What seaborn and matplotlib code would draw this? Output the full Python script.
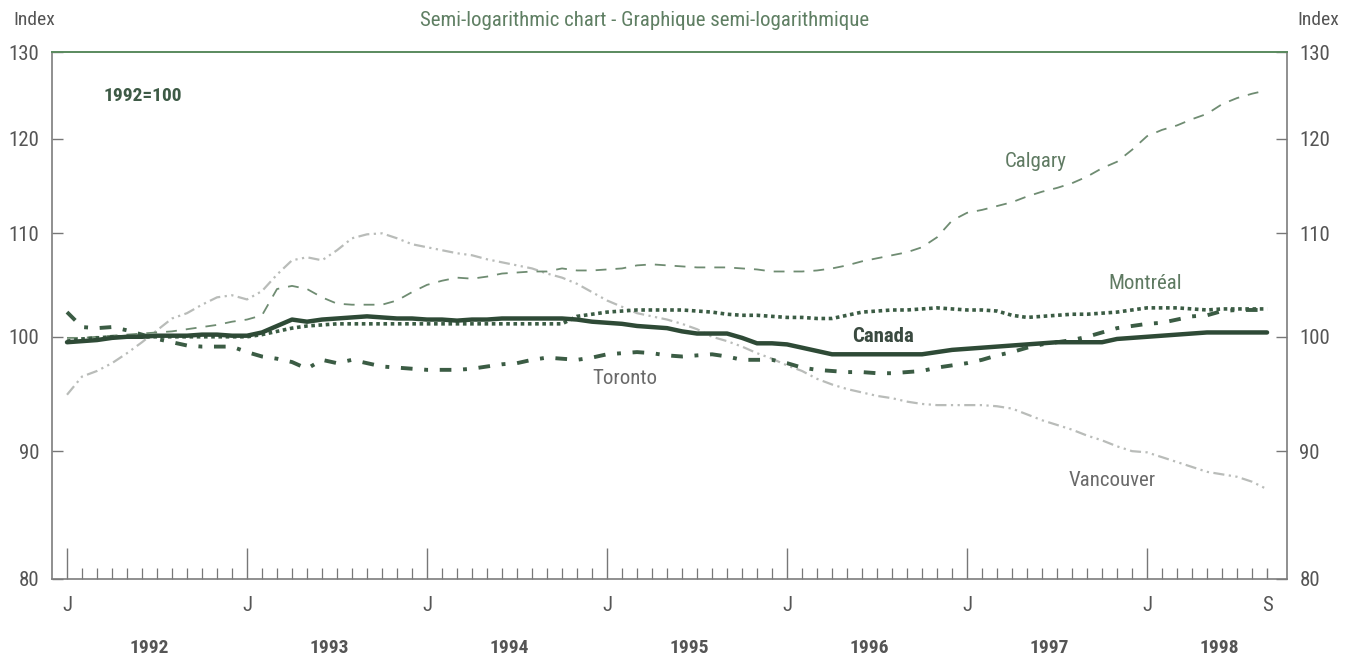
import numpy as np
import pandas as pd
import matplotlib
matplotlib.use("Agg")
import matplotlib.pyplot as plt
from matplotlib import font_manager
from matplotlib.ticker import FixedLocator, FixedFormatter, NullFormatter
import seaborn as sns

# ---------------- data (monthly, Jan 1992 .. Sep 1998) ----------------
months = np.arange(81)

canada = [99.5, 99.6, 99.7, 99.9, 100.0, 100.0, 100.1, 100.1, 100.1, 100.2, 100.2, 100.1,
          100.1, 100.4, 101.0, 101.6, 101.4, 101.6, 101.7, 101.8, 101.9, 101.8, 101.7, 101.7,
          101.6, 101.6, 101.5, 101.6, 101.6, 101.7, 101.7, 101.7, 101.7, 101.7, 101.6, 101.4,
          101.3, 101.2, 101.0, 100.9, 100.8, 100.5, 100.3, 100.3, 100.3, 99.9, 99.4, 99.4,
          99.3, 99.0, 98.7, 98.4, 98.4, 98.4, 98.4, 98.4, 98.4, 98.4, 98.6, 98.8,
          98.9, 99.0, 99.1, 99.2, 99.3, 99.4, 99.5, 99.5, 99.5, 99.5, 99.8, 99.9,
          100.0, 100.1, 100.2, 100.3, 100.4, 100.4, 100.4, 100.4, 100.4]

montreal = [99.6, 99.8, 99.9, 100.0, 100.0, 100.0, 100.0, 100.0, 100.0, 100.0, 100.0, 100.0,
            100.0, 100.2, 100.5, 100.8, 101.0, 101.1, 101.2, 101.2, 101.2, 101.2, 101.2, 101.2,
            101.2, 101.2, 101.2, 101.2, 101.2, 101.2, 101.2, 101.2, 101.2, 101.2, 101.9, 102.1,
            102.3, 102.4, 102.5, 102.5, 102.5, 102.5, 102.4, 102.3, 102.1, 102.0, 102.0, 101.9,
            101.8, 101.8, 101.7, 101.7, 102.0, 102.3, 102.4, 102.5, 102.5, 102.6, 102.7, 102.6,
            102.5, 102.5, 102.4, 102.0, 101.8, 101.9, 102.0, 102.1, 102.1, 102.2, 102.3, 102.5,
            102.7, 102.7, 102.7, 102.6, 102.5, 102.6, 102.6, 102.6, 102.6]

toronto = [102.3, 100.9, 100.8, 100.9, 100.6, 100.2, 99.8, 99.5, 99.2, 99.1, 99.1, 99.1,
           98.6, 98.2, 98.0, 97.7, 97.1, 97.9, 97.6, 97.9, 97.6, 97.3, 97.2, 97.1,
           97.0, 97.0, 97.0, 97.1, 97.3, 97.5, 97.6, 97.9, 98.1, 98.0, 97.9, 98.1,
           98.4, 98.5, 98.6, 98.5, 98.3, 98.2, 98.3, 98.4, 98.2, 97.9, 97.9, 97.9,
           97.6, 97.2, 97.0, 96.9, 96.8, 96.8, 96.7, 96.7, 96.8, 96.9, 97.2, 97.4,
           97.6, 97.9, 98.3, 98.6, 99.0, 99.3, 99.5, 99.7, 100.0, 100.4, 100.8, 101.0,
           101.2, 101.3, 101.6, 101.9, 102.0, 102.4, 102.5, 102.5, 102.5]

calgary = [99.9, 99.9, 100.0, 100.1, 100.2, 100.3, 100.4, 100.5, 100.7, 100.9, 101.1, 101.4,
           101.6, 102.0, 104.5, 104.8, 104.5, 103.7, 103.1, 103.0, 103.0, 103.0, 103.4, 104.2,
           104.9, 105.3, 105.6, 105.5, 105.7, 106.0, 106.1, 106.2, 106.2, 106.5, 106.3, 106.3,
           106.4, 106.5, 106.8, 106.9, 106.8, 106.7, 106.6, 106.6, 106.6, 106.5, 106.4, 106.2,
           106.2, 106.2, 106.3, 106.5, 106.8, 107.2, 107.5, 107.8, 108.1, 108.6, 109.6, 111.3,
           112.1, 112.4, 112.8, 113.2, 113.8, 114.3, 114.7, 115.2, 115.9, 116.8, 117.5, 118.8,
           120.3, 121.0, 121.5, 122.2, 122.8, 123.9, 124.6, 125.1, 125.5]

vancouver = [94.8, 96.4, 96.9, 97.6, 98.5, 99.5, 100.6, 101.7, 102.2, 103.0, 103.7, 103.9,
             103.5, 104.3, 105.9, 107.3, 107.6, 107.3, 108.3, 109.5, 109.9, 110.0, 109.5, 108.9,
             108.6, 108.3, 108.0, 107.8, 107.4, 107.1, 106.8, 106.5, 106.0, 105.6, 105.0, 104.2,
             103.4, 102.8, 102.2, 101.9, 101.6, 101.2, 100.7, 100.0, 99.6, 99.1, 98.5, 98.0,
             97.4, 96.9, 96.2, 95.7, 95.3, 95.0, 94.7, 94.5, 94.2, 94.0, 93.9, 93.9,
             93.9, 93.9, 93.8, 93.6, 93.1, 92.6, 92.2, 91.8, 91.3, 90.9, 90.4, 90.0,
             89.9, 89.5, 89.1, 88.7, 88.3, 88.1, 87.9, 87.5, 86.9]

y_ticks = [80, 90, 100, 110, 120, 130]
x_major = [0, 12, 24, 36, 48, 60, 72, 80]
x_major_labels = ["J", "J", "J", "J", "J", "J", "J", "S"]
years = ["1992", "1993", "1994", "1995", "1996", "1997", "1998"]
year_pos = [5.5, 17.5, 29.5, 41.5, 53.5, 65.5, 76.8]

# ---------------- fonts ----------------
sns.set_theme(style="white")
avail = {f.name for f in font_manager.fontManager.ttflist}
family = "DejaVu Sans"
for cand in ["Liberation Sans Narrow", "Roboto Condensed", "DejaVu Sans Condensed", "Liberation Sans"]:
    if cand in avail:
        family = cand
        break
plt.rcParams["font.family"] = [family, "DejaVu Sans"]

TXT_GREEN = "#5f7f63"
TXT_GRAY = "#555555"
DARK = "#2e4a36"

fig = plt.figure(figsize=(13.57, 6.64), dpi=100)
ax = fig.add_axes([52 / 1357, 1 - 579 / 664, (1287 - 52) / 1357, (579 - 52) / 664])

df = pd.DataFrame({"m": months, "Canada": canada, "Montreal": montreal, "Toronto": toronto,
                   "Calgary": calgary, "Vancouver": vancouver})

sns.lineplot(data=df, x="m", y="Vancouver", ax=ax, color="#b9bcb9", linewidth=1.6,
             linestyle=(0, (5, 2, 1, 2, 1, 2)))
sns.lineplot(data=df, x="m", y="Calgary", ax=ax, color="#6f8c72", linewidth=1.3,
             linestyle=(0, (6, 5)))
sns.lineplot(data=df, x="m", y="Toronto", ax=ax, color="#3b5c44", linewidth=2.8,
             linestyle=(0, (3, 3, 1, 3)))
sns.lineplot(data=df, x="m", y="Montreal", ax=ax, color="#3b5c44", linewidth=2.6,
             linestyle=(0, (1, 1)))
sns.lineplot(data=df, x="m", y="Canada", ax=ax, color=DARK, linewidth=3.2,
             linestyle="-")

ax.set_yscale("log")
ax.set_ylim(80, 130)
ax.set_xlim(-1.0, 81.33)
ax.set_xlabel("")
ax.set_ylabel("")

ax.yaxis.set_major_locator(FixedLocator(y_ticks))
ax.yaxis.set_major_formatter(FixedFormatter([str(v) for v in y_ticks]))
ax.yaxis.set_minor_locator(FixedLocator([]))
ax.yaxis.set_minor_formatter(NullFormatter())
ax.tick_params(axis="y", which="major", direction="in", length=8, width=1.0,
               color="#777777", left=True, right=True, labelleft=True, labelright=True,
               labelsize=15, labelcolor=TXT_GRAY, pad=9)

ax.xaxis.set_major_locator(FixedLocator(x_major))
ax.xaxis.set_major_formatter(FixedFormatter(x_major_labels))
ax.xaxis.set_minor_locator(FixedLocator(list(months)))
ax.tick_params(axis="x", which="major", direction="in", length=22, width=1.0,
               color="#777777", bottom=True, top=False, labelsize=15,
               labelcolor=TXT_GRAY, pad=12)
ax.tick_params(axis="x", which="minor", direction="in", length=8, width=0.9,
               color="#777777", bottom=True, top=False)
# September tick is a month tick (short)
last = ax.xaxis.get_major_ticks()[-1]
last.tick1line.set_markersize(8)

for side in ["left", "right", "bottom"]:
    ax.spines[side].set_color("#7d7d7d")
    ax.spines[side].set_linewidth(1.2)
ax.spines["top"].set_color("#5a8a5e")
ax.spines["top"].set_linewidth(1.4)
ax.grid(False)

xt = ax.get_xaxis_transform()
for yr, p in zip(years, year_pos):
    ax.text(p, -0.131, yr, transform=xt, ha="center", va="center", fontsize=14,
            fontweight="bold", color="#555555")

# header texts
fig.text(34 / 1357, 1 - 20 / 664, "Index", ha="center", va="center", fontsize=14, color=TXT_GRAY)
fig.text(1318 / 1357, 1 - 20 / 664, "Index", ha="center", va="center", fontsize=14, color=TXT_GRAY)
fig.text(645 / 1357, 1 - 20 / 664, "Semi-logarithmic chart - Graphique semi-logarithmique",
         ha="center", va="center", fontsize=15, color=TXT_GREEN)

# in-plot labels
ax.text(2.4, 124.8, "1992=100", ha="left", va="center", fontsize=14, fontweight="bold", color="#3d5a45")
ax.text(54.4, 100.0, "Canada", ha="center", va="center", fontsize=15, fontweight="bold", color="#3a4a40")
ax.text(64.6, 117.5, "Calgary", ha="center", va="center", fontsize=15, color="#5f7a62")
ax.text(71.9, 105.0, "Montréal", ha="center", va="center", fontsize=15, color="#5f7a62")
ax.text(37.2, 96.2, "Toronto", ha="center", va="center", fontsize=15, color="#6a6a6a")
ax.text(69.7, 87.6, "Vancouver", ha="center", va="center", fontsize=15, color="#6a6a6a")

fig.savefig("out.png", dpi=100, facecolor="white")
print("font used:", family)
